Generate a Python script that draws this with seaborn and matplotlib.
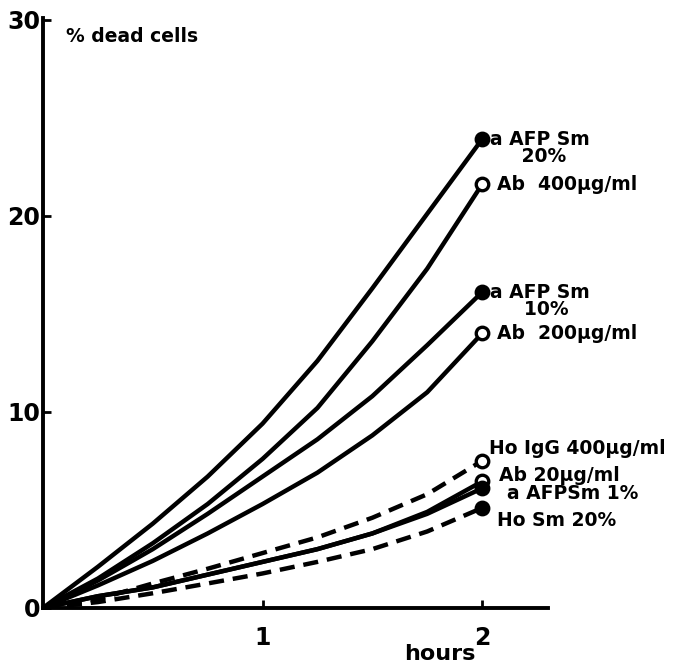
import numpy as np
import pandas as pd
import matplotlib
matplotlib.use("Agg")
import matplotlib.pyplot as plt
import seaborn as sns

# Tiempo (horas) y % de células muertas
hours = [0, 0.25, 0.5, 0.75, 1.0, 1.25, 1.5, 1.75, 2.0]

afp_sm_20 = [0, 2.1, 4.3, 6.7, 9.4, 12.6, 16.3, 20.1, 23.9]
ab_400 = [0, 1.5, 3.3, 5.3, 7.6, 10.2, 13.6, 17.3, 21.6]
afp_sm_10 = [0, 1.4, 3.0, 4.8, 6.7, 8.6, 10.8, 13.4, 16.1]
ab_200 = [0, 1.15, 2.4, 3.8, 5.3, 6.9, 8.8, 11.0, 14.0]
ho_igg_400 = [0, 0.45, 1.25, 2.0, 2.8, 3.6, 4.6, 5.8, 7.5]
ab_20 = [0, 0.6, 1.05, 1.7, 2.35, 3.0, 3.8, 4.9, 6.45]
afp_sm_1 = [0, 0.6, 1.05, 1.7, 2.35, 3.0, 3.8, 4.8, 6.1]
ho_sm_20 = [0, 0.3, 0.75, 1.25, 1.76, 2.35, 3.0, 3.9, 5.1]

x_ticks = [1, 2]
y_ticks = [0, 10, 20, 30]

sns.set_style("ticks")
plt.rcParams["font.family"] = ["DejaVu Sans"]
plt.rcParams["font.weight"] = "bold"
plt.rcParams["text.color"] = "black"
plt.rcParams["xtick.color"] = "black"
plt.rcParams["ytick.color"] = "black"

fig = plt.figure(figsize=(6.87, 6.67), dpi=100)
ax = fig.add_axes([0.0626, 0.0885, 0.735, 0.885])

# (etiqueta, valores, estilo de línea, relleno del marcador, desplazamiento, va)
series = [
    ("a AFP Sm\n 20%", afp_sm_20, "-", "black", (6, 7), "top"),
    ("Ab  400µg/ml", ab_400, "-", "white", (11, 0), "center"),
    ("a AFP Sm\n  10%", afp_sm_10, "-", "black", (6, 7), "top"),
    ("Ab  200µg/ml", ab_200, "-", "white", (11, 0), "center"),
    ("Ho IgG 400µg/ml", ho_igg_400, "--", "white", (5, 9), "center"),
    ("Ab 20µg/ml", ab_20, "-", "white", (12, 4), "center"),
    ("a AFPSm 1%", afp_sm_1, "-", "black", (18, -4), "center"),
    ("Ho Sm 20%", ho_sm_20, "--", "black", (11, -9), "center"),
]

for label, vals, ls, fill, offset, va in series:
    df = pd.DataFrame({"hours": hours, "dead": vals})
    line_style = (0, (3.4, 2.0)) if ls == "--" else "-"
    sns.lineplot(data=df, x="hours", y="dead", ax=ax, color="black",
                 linewidth=3.2, linestyle=line_style, sort=False)
    ax.plot(hours[-1], vals[-1], marker="o", markersize=9,
            markerfacecolor=fill, markeredgecolor="black",
            markeredgewidth=2.4, linestyle="none", zorder=5)
    ax.annotate(label, xy=(hours[-1], vals[-1]), xytext=offset,
                textcoords="offset points", ha="left", va=va,
                multialignment="center", fontsize=13.5, fontweight="bold",
                linespacing=0.9, color="black")

ax.set_xlim(0, 2.3)
ax.set_ylim(0, 30.1)
ax.set_xticks(x_ticks)
ax.set_yticks(y_ticks)
ax.set_xticklabels([str(t) for t in x_ticks], fontsize=17, fontweight="bold")
ax.set_yticklabels([str(t) for t in y_ticks], fontsize=17, fontweight="bold")
ax.tick_params(axis="both", direction="in", length=6, width=2, color="black",
               labelcolor="black")
ax.tick_params(axis="x", pad=13)
ax.tick_params(axis="y", pad=2)

sns.despine(ax=ax)
for side in ["left", "bottom"]:
    ax.spines[side].set_linewidth(2.8)
    ax.spines[side].set_color("black")

ax.set_xlabel("")
ax.set_ylabel("")
ax.text(0.045, 0.985, "% dead cells", transform=ax.transAxes,
        fontsize=13.5, fontweight="bold", va="top", ha="left", color="black")
fig.text(0.64, 0.005, "hours", fontsize=16, fontweight="bold",
         ha="center", va="bottom", color="black")

fig.savefig("out.png", dpi=100)
